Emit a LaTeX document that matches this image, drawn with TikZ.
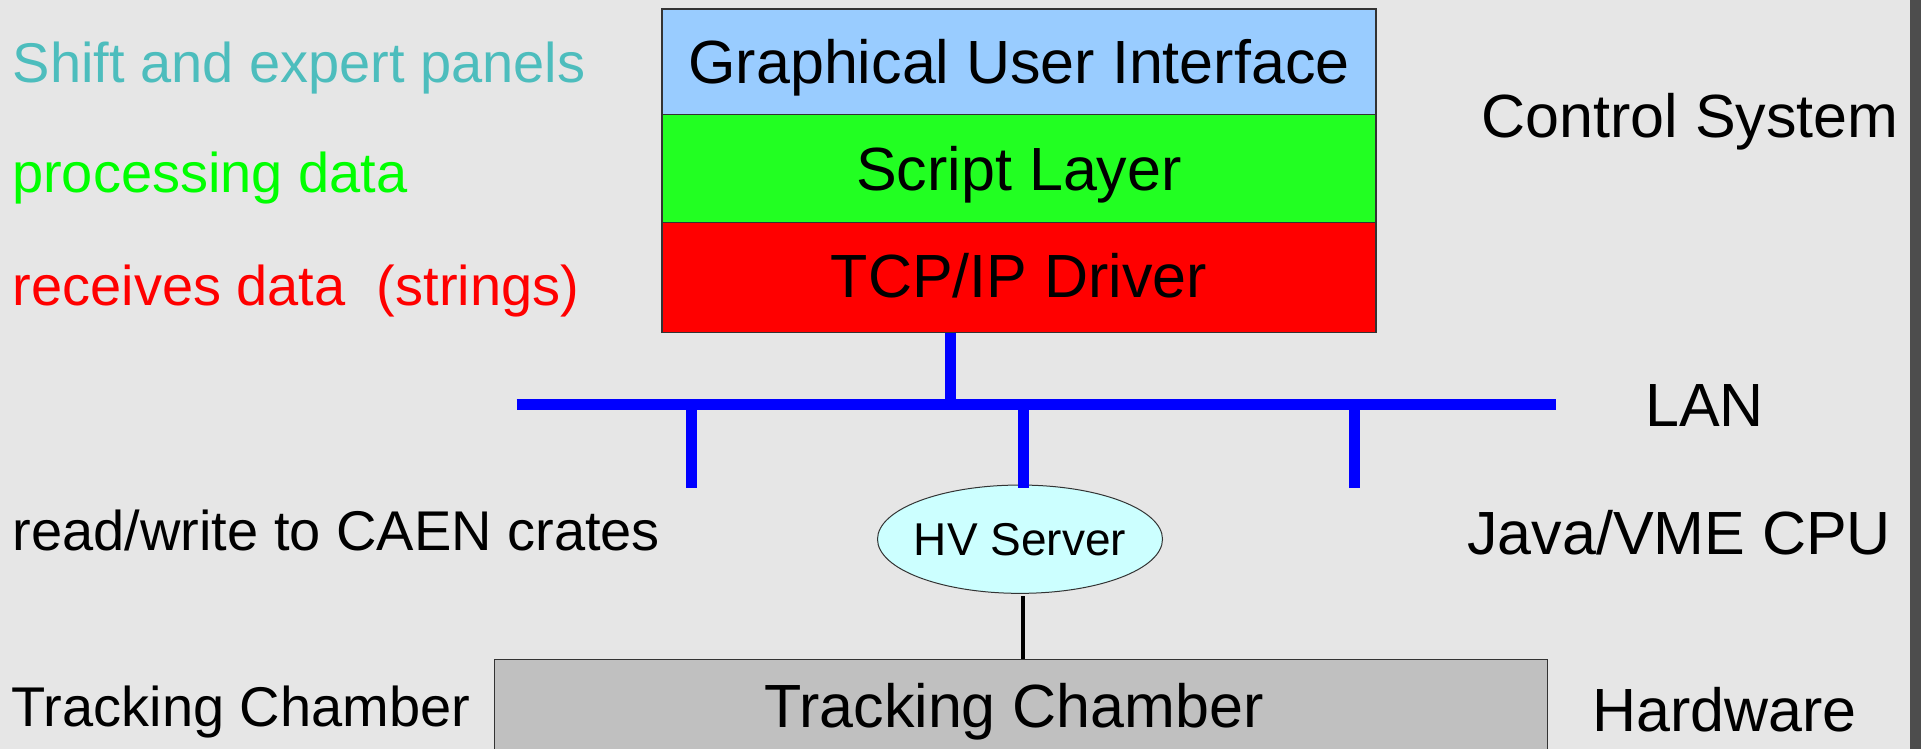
\documentclass[tikz,border=0pt]{standalone}
\usepackage{fontspec}
\setmainfont{Liberation Sans}
\usetikzlibrary{shapes.geometric}

\definecolor{bgcol}{HTML}{E6E6E6}
\definecolor{stripcol}{HTML}{4D4D4D}
\definecolor{guicol}{HTML}{99CCFF}
\definecolor{scriptcol}{HTML}{22FF22}
\definecolor{tcpcol}{HTML}{FF0000}
\definecolor{hvcol}{HTML}{CCFFFF}
\definecolor{hwcol}{HTML}{C0C0C0}
\definecolor{lancol}{HTML}{0000FF}
\definecolor{panelcol}{HTML}{4DBDBD}
\definecolor{proccol}{HTML}{00FF00}
\definecolor{recvcol}{HTML}{FF0000}
\definecolor{edgecol}{HTML}{333333}

\tikzset{
  layer/.style={draw=edgecol, line width=1.3pt, minimum width=714pt,
    inner sep=0pt, text height=44pt, text depth=0pt,
    font=\fontsize{61}{61}\selectfont},
  lbl/.style={anchor=base west, inner sep=0pt},
  lefttxt/.style={lbl, font=\fontsize{56}{56}\selectfont},
  righttxt/.style={lbl, font=\fontsize{61}{61}\selectfont},
  lanline/.style={draw=lancol, line width=11pt},
}

\begin{document}
\begin{tikzpicture}[x=1pt, y=-1pt]
  % canvas and right edge strip
  \clip (0,0) rectangle (1921,749);
  \fill[bgcol] (0,0) rectangle (1921,749);
  \fill[stripcol] (1910,0) rectangle (1921,749);

  % layered software stack
  \node[layer, fill=guicol, minimum height=105.3pt] (gui) at (1019,61.65) {Graphical User Interface};
  \node[layer, fill=scriptcol, minimum height=108pt] (script) at (1019,168.3) {Script Layer};
  \node[layer, fill=tcpcol, minimum height=110pt, text height=41pt, text depth=1.6pt] (tcp) at (1019,277.3) {TCP/IP Driver};

  % HV server and hardware
  \node[ellipse, draw=edgecol, line width=1pt, fill=hvcol,
        minimum width=285pt, minimum height=108.3pt,
        inner xsep=-6pt, inner ysep=0pt, text height=32pt, text depth=0pt,
        font=\fontsize{46}{46}\selectfont] (hv) at (1020,539.2) {HV Server};
  \node[draw=edgecol, line width=1.3pt, fill=hwcol, inner sep=0pt,
        minimum width=1053.4pt, minimum height=92.3pt,
        text height=44pt, text depth=0pt,
        font=\fontsize{61}{61}\selectfont] (chamber) at (1021,705.45) {\hspace*{-14pt}Tracking Chamber};

  % LAN bus and taps
  \coordinate (lanW) at (516.5,404.5);
  \coordinate (lanE) at (1556,404.5);
  \coordinate (tapS) at (950.5,404.5);
  \coordinate (tapL) at (691.5,404.5);
  \coordinate (tapM) at (1023,404.5);
  \coordinate (tapR) at (1354.5,404.5);
  \coordinate (endL) at (691.5,488);
  \coordinate (endM) at (1023,488);
  \coordinate (endR) at (1354.5,488);

  \draw[lanline] (tcp.south -| tapS) -- (tapS);
  \draw[lanline] (lanW) -- (lanE);
  \draw[lanline] ([yshift=5.5pt]tapL) -- (endL);
  \draw[lanline] ([yshift=5.5pt]tapM) -- (endM);
  \draw[lanline] ([yshift=5.5pt]tapR) -- (endR);

  % server to chamber link
  \draw[black, line width=3.5pt] ([yshift=-2.5pt]hv.south -| tapM) -- (chamber.north -| tapM);

  % layer descriptions (left)
  \node[lefttxt, text=panelcol] (tpanels) at (12.5,82.7) {Shift and expert panels};
  \node[lefttxt, text=proccol] (tproc) at (12,192.7) {processing data};
  \node[lefttxt, text=recvcol] (trecv) at (12.5,305) {receives data\ \ (strings)};
  \node[lefttxt] (tcaen) at (12.5,550.7) {read/write to CAEN crates};
  \node[lefttxt] (ttrack) at (11.5,726.7) {Tracking Chamber};

  % tier names (right)
  \node[righttxt] (tctrl) at (1481.5,137.3) {Control System};
  \node[righttxt] (tlan) at (1645,426.7) {LAN};
  \node[righttxt] (tjava) at (1467,554) {Java/VME CPU};
  \node[righttxt] (thw) at (1592,731) {Hardware};
\end{tikzpicture}
\end{document}
